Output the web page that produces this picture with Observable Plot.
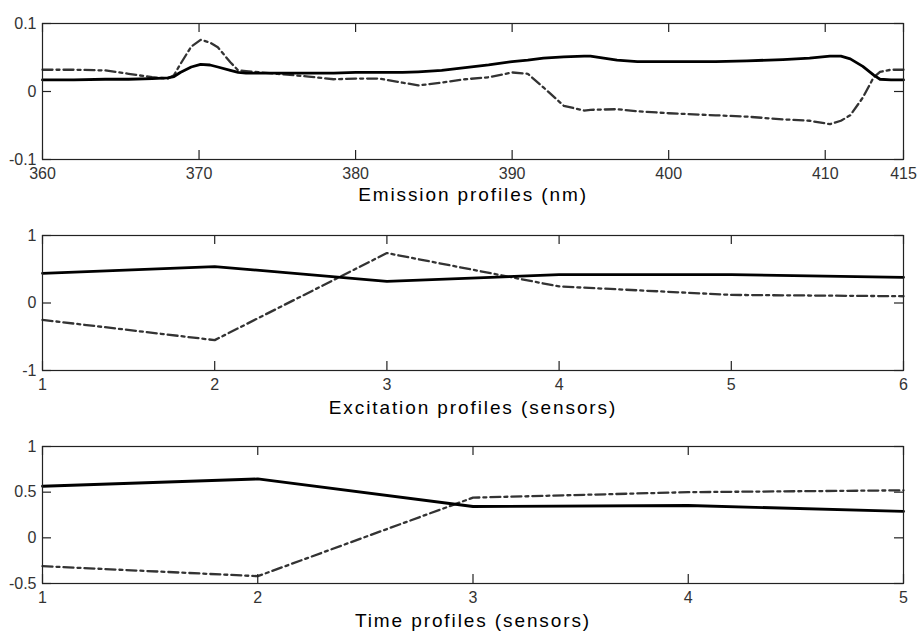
<!DOCTYPE html>
<html>
<head>
<meta charset="utf-8">
<script src="https://cdn.jsdelivr.net/npm/d3@7"></script>
<script src="https://cdn.jsdelivr.net/npm/@observablehq/plot@0.6"></script>
<style>
  html, body { margin: 0; padding: 0; background: #fff; }
  #chart { width: 917px; height: 632px; overflow: hidden; }
  #chart svg { display: block; overflow: visible; }
</style>
</head>
<body>
<div id="chart"></div>
<script>
// ---------- Panel 1: emission profiles ----------
const emWavelength = [360, 362, 364, 365.5, 367, 368, 368.4, 368.8, 369.5, 370.1, 370.7, 371.2, 372, 372.5, 373, 375, 377, 378.6, 380, 381.5, 383, 384, 385.5, 387, 388.5, 390, 391, 392, 393.3, 394.6, 395, 396.7, 398, 400, 403, 405, 407.3, 409, 410.3, 411, 411.6, 412.4, 413.1, 413.5, 414.2, 415];
const emSolid = [0.017, 0.017, 0.018, 0.018, 0.019, 0.020, 0.022, 0.028, 0.036, 0.040, 0.039, 0.036, 0.031, 0.028, 0.027, 0.027, 0.027, 0.027, 0.028, 0.028, 0.028, 0.029, 0.031, 0.035, 0.039, 0.044, 0.046, 0.049, 0.051, 0.052, 0.052, 0.046, 0.044, 0.044, 0.044, 0.045, 0.047, 0.049, 0.052, 0.052, 0.048, 0.037, 0.024, 0.018, 0.017, 0.017];
const emDash = [0.032, 0.032, 0.031, 0.026, 0.021, 0.019, 0.024, 0.040, 0.066, 0.076, 0.072, 0.065, 0.043, 0.031, 0.030, 0.026, 0.022, 0.018, 0.019, 0.019, 0.013, 0.009, 0.013, 0.018, 0.021, 0.028, 0.026, 0.006, -0.021, -0.028, -0.027, -0.026, -0.029, -0.032, -0.035, -0.037, -0.041, -0.043, -0.048, -0.043, -0.035, -0.009, 0.021, 0.029, 0.032, 0.032];
const emXTicks = [360, 370, 380, 390, 400, 410, 415];
const emYTicks = [-0.1, 0, 0.1];

// ---------- Panel 2: excitation profiles ----------
const exSensor = [1, 2, 3, 4, 5, 6];
const exSolid = [0.44, 0.54, 0.32, 0.42, 0.42, 0.38];
const exDash = [-0.25, -0.55, 0.74, 0.245, 0.12, 0.10];
const exXTicks = [1, 2, 3, 4, 5, 6];
const exYTicks = [-1, 0, 1];

// ---------- Panel 3: time profiles ----------
const tmSensor = [1, 2, 3, 4, 5];
const tmSolid = [0.565, 0.645, 0.343, 0.354, 0.29];
const tmDash = [-0.31, -0.42, 0.44, 0.50, 0.52];
const tmXTicks = [1, 2, 3, 4, 5];
const tmYTicks = [-0.5, 0, 0.5, 1];

const titles = ["Emission profiles (nm)", "Excitation profiles (sensors)", "Time profiles (sensors)"];

const W = 917, ML = 42, MR = 14;
const FONT = "'Liberation Sans', Arial, Helvetica, sans-serif";

function panel({xs, solid, dash, xDomain, yDomain, xTicks, yTicks, title, height, marginTop, marginBottom, titleDy}) {
  const data = xs.map((x, i) => ({x, s: solid[i], d: dash[i]}));
  const plotH = height - marginTop - marginBottom;
  const plotW = W - ML - MR;
  const tk = 9;
  const svg = Plot.plot({
    width: W, height, marginLeft: ML, marginRight: MR, marginTop, marginBottom,
    style: {fontFamily: FONT, fontSize: "16px", color: "#222", background: "white", overflow: "visible"},
    x: {domain: xDomain, ticks: xTicks, tickSize: 0, tickPadding: 8, tickFormat: d => String(d), label: null},
    y: {domain: yDomain, ticks: yTicks, tickSize: 0, tickPadding: 6, tickFormat: d => String(d), label: null},
    marks: [
      Plot.line(data, {x: "x", y: "d", stroke: "#333", strokeWidth: 2.3, strokeDasharray: "10,4,3,4"}),
      Plot.line(data, {x: "x", y: "s", stroke: "#000", strokeWidth: 2.8}),
      Plot.tickX(xTicks, {x: d => d, insetTop: plotH - tk, stroke: "#222", strokeWidth: 1.2}),
      Plot.tickX(xTicks, {x: d => d, insetBottom: plotH - tk, stroke: "#222", strokeWidth: 1.2}),
      Plot.tickY(yTicks, {y: d => d, insetRight: plotW - tk, stroke: "#222", strokeWidth: 1.2}),
      Plot.tickY(yTicks, {y: d => d, insetLeft: plotW - tk, stroke: "#222", strokeWidth: 1.2}),
      Plot.frame({stroke: "#222", strokeWidth: 1.2}),
      Plot.text([title], {frameAnchor: "bottom", dy: titleDy, fontSize: 19, fill: "#000", fontFamily: FONT})
    ]
  });
  const s = d3.select(svg);
  s.selectAll("g[aria-label*='tick label'] text").style("fill", "#333");
  s.selectAll("g[aria-label='text'] text").attr("letter-spacing", "1.9px");
  return svg;
}

const root = document.getElementById("chart");
root.appendChild(panel({xs: emWavelength, solid: emSolid, dash: emDash, xDomain: [360, 415], yDomain: [-0.1, 0.1], xTicks: emXTicks, yTicks: emYTicks, title: titles[0], height: 208, marginTop: 23, marginBottom: 49, titleDy: 41}));
root.appendChild(panel({xs: exSensor, solid: exSolid, dash: exDash, xDomain: [1, 6], yDomain: [-1, 1], xTicks: exXTicks, yTicks: exYTicks, title: titles[1], height: 212, marginTop: 27, marginBottom: 50, titleDy: 43}));
root.appendChild(panel({xs: tmSensor, solid: tmSolid, dash: tmDash, xDomain: [1, 5], yDomain: [-0.5, 1], xTicks: tmXTicks, yTicks: tmYTicks, title: titles[2], height: 212, marginTop: 26, marginBottom: 49, titleDy: 43}));
</script>
</body>
</html>
